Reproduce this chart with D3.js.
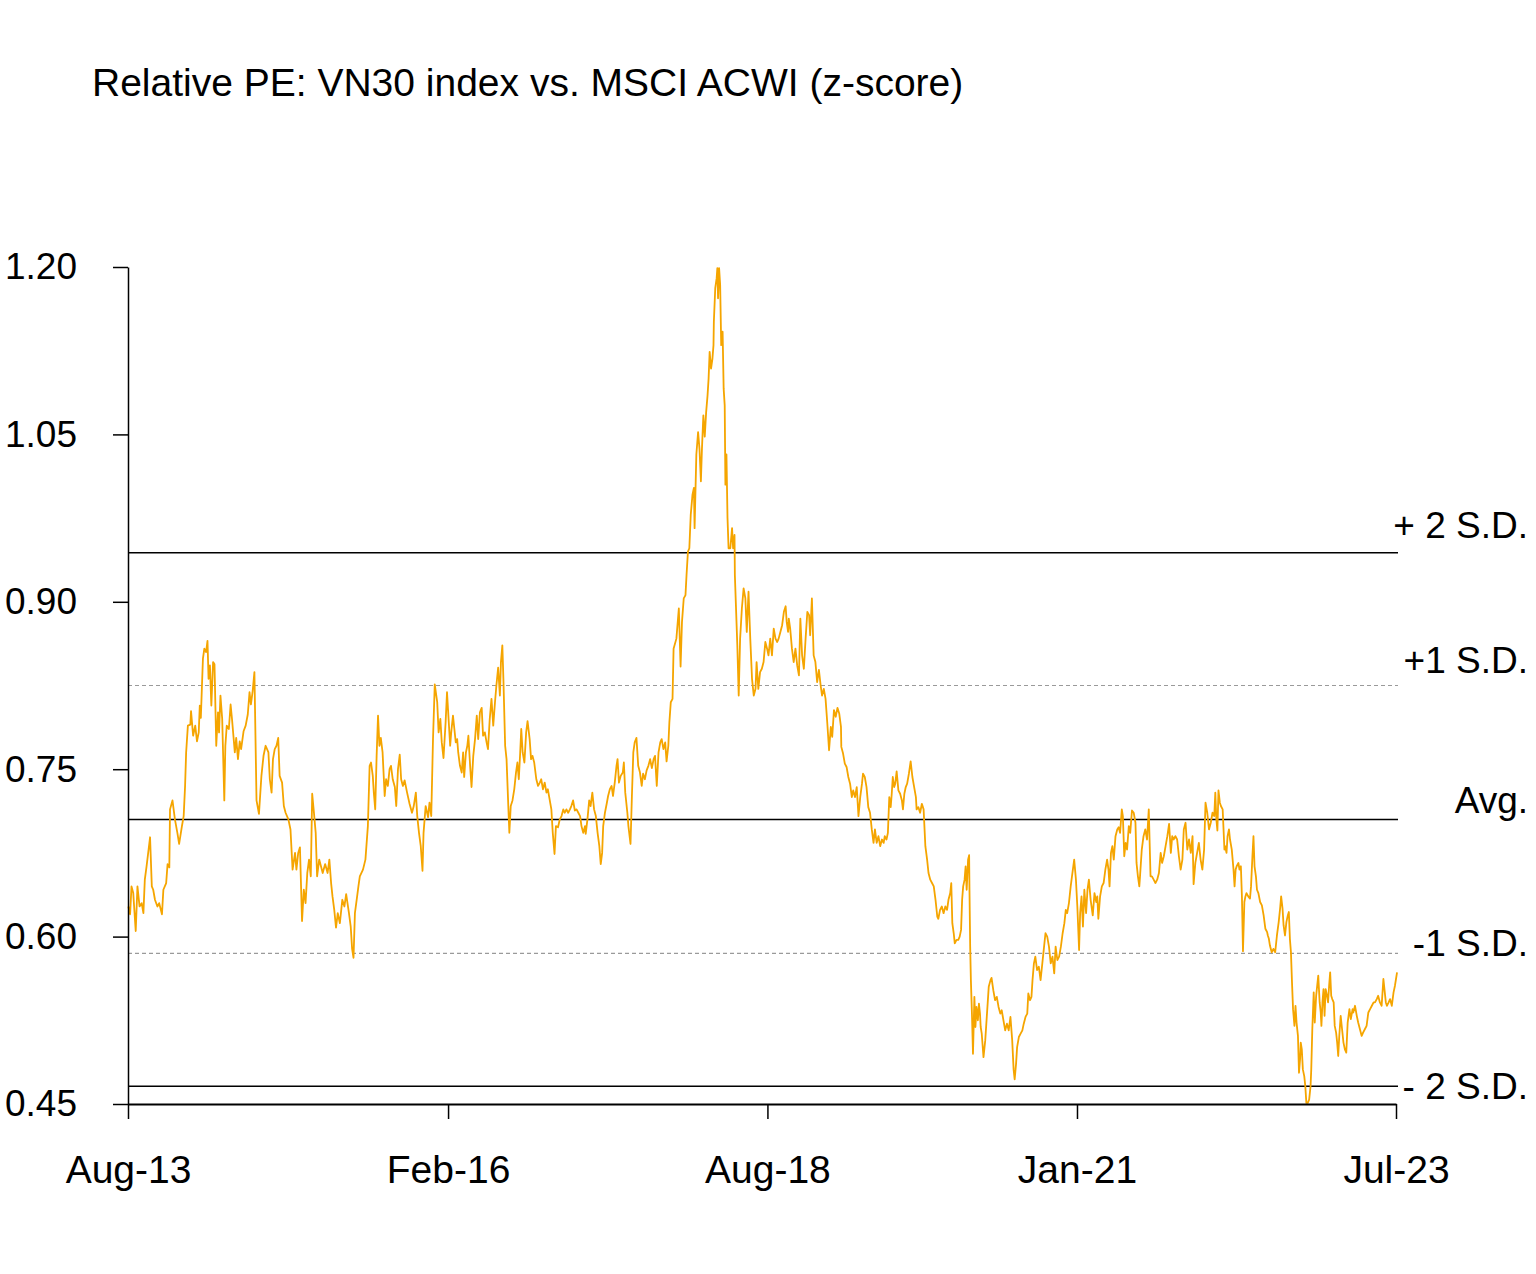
<script src="https://d3js.org/d3.v7.min.js"></script>

<style>
* {
    padding: 0px;
    margin: 0px;
}
body {
    background: #fff;
}
text {
    font-family: 'Liberation Sans', Arial, sans-serif;
    fill: #000;
}
</style>

<svg width="1536" height="1274"></svg>

<script>
const title = "Relative PE: VN30 index vs. MSCI ACWI (z-score)";

// y axis ticks
const yTicks = [0.45, 0.60, 0.75, 0.90, 1.05, 1.20];

// x axis ticks
const xTickDates = ["2013-08-01", "2016-02-01", "2018-08-01", "2021-01-01", "2023-07-01"];
const xTickLabels = ["Aug-13", "Feb-16", "Aug-18", "Jan-21", "Jul-23"];

// average and standard deviation bands
const sdLevels = [0.944, 0.825, 0.705, 0.585, 0.466];
const sdLabels = ["+ 2 S.D.", "+1 S.D.", "Avg.", "-1 S.D.", "- 2 S.D."];
const sdSolid = [true, false, true, false, true];

// relative PE
const series = [
["2013-08-02",0.627],["2013-08-07",0.620],["2013-08-11",0.645],["2013-08-16",0.639],["2013-08-23",0.605],["2013-08-28",0.645],
["2013-09-03",0.627],["2013-09-09",0.630],["2013-09-14",0.621],["2013-09-18",0.651],["2013-09-23",0.663],
["2013-10-03",0.689],["2013-10-08",0.645],["2013-10-12",0.642],["2013-10-17",0.633],["2013-10-24",0.627],["2013-10-29",0.630],
["2013-11-06",0.620],["2013-11-10",0.642],["2013-11-18",0.648],["2013-11-22",0.665],["2013-11-27",0.662],["2013-11-29",0.714],
["2013-12-06",0.722],["2013-12-13",0.705],["2013-12-20",0.693],["2013-12-25",0.683],
["2014-01-02",0.699],["2014-01-07",0.708],["2014-01-11",0.735],["2014-01-14",0.765],["2014-01-19",0.789],["2014-01-26",0.790],["2014-01-28",0.802],
["2014-02-03",0.780],["2014-02-09",0.789],["2014-02-14",0.775],["2014-02-19",0.783],["2014-02-22",0.807],["2014-02-25",0.796],["2014-02-28",0.823],
["2014-03-03",0.849],["2014-03-07",0.858],["2014-03-12",0.855],["2014-03-16",0.865],["2014-03-19",0.831],["2014-03-23",0.843],["2014-03-27",0.807],
["2014-04-01",0.846],["2014-04-05",0.844],["2014-04-10",0.771],["2014-04-15",0.801],["2014-04-18",0.783],["2014-04-22",0.816],["2014-04-27",0.795],
["2014-05-03",0.722],["2014-05-06",0.771],["2014-05-10",0.789],["2014-05-16",0.786],["2014-05-21",0.808],["2014-05-25",0.795],
["2014-06-02",0.765],["2014-06-06",0.778],["2014-06-11",0.759],["2014-06-16",0.775],["2014-06-20",0.768],["2014-06-27",0.784],
["2014-07-03",0.789],["2014-07-09",0.799],["2014-07-14",0.819],["2014-07-18",0.808],["2014-07-23",0.820],["2014-07-28",0.837],
["2014-08-03",0.722],["2014-08-10",0.710],["2014-08-17",0.744],["2014-08-23",0.762],["2014-08-29",0.771],
["2014-09-06",0.765],["2014-09-10",0.741],["2014-09-15",0.729],["2014-09-19",0.759],["2014-09-24",0.768],["2014-09-29",0.771],
["2014-10-04",0.778],["2014-10-08",0.744],["2014-10-15",0.738],["2014-10-20",0.717],["2014-10-25",0.711],
["2014-11-02",0.705],["2014-11-08",0.696],["2014-11-14",0.660],["2014-11-21",0.675],["2014-11-25",0.660],["2014-11-30",0.675],
["2014-12-05",0.680],["2014-12-11",0.614],["2014-12-16",0.642],["2014-12-21",0.630],["2014-12-26",0.657],["2014-12-31",0.669],
["2015-01-05",0.654],["2015-01-09",0.728],["2015-01-14",0.711],["2015-01-19",0.693],["2015-01-23",0.654],["2015-01-29",0.669],
["2015-02-04",0.662],["2015-02-08",0.657],["2015-02-15",0.665],["2015-02-22",0.657],["2015-02-27",0.669],
["2015-03-04",0.648],["2015-03-08",0.636],["2015-03-13",0.624],["2015-03-18",0.608],["2015-03-23",0.621],["2015-03-29",0.612],
["2015-04-05",0.633],["2015-04-11",0.627],["2015-04-16",0.638],["2015-04-24",0.621],["2015-04-29",0.609],
["2015-05-03",0.589],["2015-05-07",0.581],["2015-05-11",0.621],["2015-05-16",0.633],["2015-05-21",0.645],["2015-05-25",0.654],
["2015-06-03",0.660],["2015-06-10",0.669],["2015-06-17",0.699],["2015-06-22",0.753],["2015-06-26",0.756],
["2015-07-01",0.744],["2015-07-04",0.729],["2015-07-08",0.714],["2015-07-12",0.762],["2015-07-16",0.798],["2015-07-20",0.771],["2015-07-24",0.778],["2015-07-29",0.765],
["2015-08-04",0.726],["2015-08-08",0.741],["2015-08-13",0.735],["2015-08-18",0.750],["2015-08-22",0.753],["2015-08-27",0.741],
["2015-09-02",0.734],["2015-09-06",0.717],["2015-09-11",0.750],["2015-09-16",0.763],["2015-09-20",0.741],["2015-09-25",0.735],["2015-09-30",0.740],
["2015-10-07",0.729],["2015-10-14",0.719],["2015-10-21",0.711],["2015-10-26",0.717],
["2015-11-01",0.729],["2015-11-05",0.708],["2015-11-10",0.693],["2015-11-15",0.681],["2015-11-20",0.659],["2015-11-23",0.693],["2015-11-29",0.717],
["2015-12-06",0.707],["2015-12-10",0.720],["2015-12-15",0.708],["2015-12-20",0.777],["2015-12-25",0.826],
["2016-01-01",0.810],["2016-01-05",0.783],["2016-01-10",0.795],["2016-01-14",0.774],["2016-01-19",0.760],["2016-01-25",0.792],["2016-01-29",0.819],
["2016-02-07",0.771],["2016-02-10",0.783],["2016-02-15",0.798],["2016-02-19",0.786],["2016-02-23",0.774],["2016-02-27",0.777],
["2016-03-01",0.765],["2016-03-06",0.753],["2016-03-11",0.747],["2016-03-15",0.765],["2016-03-18",0.743],["2016-03-23",0.765],["2016-03-27",0.771],["2016-03-30",0.780],
["2016-04-04",0.753],["2016-04-08",0.734],["2016-04-13",0.762],["2016-04-18",0.777],["2016-04-23",0.798],["2016-04-27",0.777],
["2016-05-02",0.801],["2016-05-07",0.805],["2016-05-11",0.780],["2016-05-16",0.783],["2016-05-21",0.774],["2016-05-25",0.768],["2016-05-30",0.795],
["2016-06-04",0.813],["2016-06-09",0.789],["2016-06-14",0.810],["2016-06-18",0.825],["2016-06-23",0.841],["2016-06-28",0.816],
["2016-07-01",0.846],["2016-07-05",0.861],["2016-07-08",0.831],["2016-07-13",0.771],["2016-07-17",0.759],["2016-07-22",0.717],["2016-07-25",0.693],["2016-07-29",0.717],
["2016-08-03",0.722],["2016-08-08",0.732],["2016-08-13",0.747],["2016-08-17",0.756],["2016-08-21",0.741],["2016-08-25",0.765],["2016-08-28",0.786],
["2016-09-01",0.765],["2016-09-06",0.756],["2016-09-11",0.783],["2016-09-15",0.793],["2016-09-21",0.777],["2016-09-25",0.759],["2016-09-29",0.762],
["2016-10-04",0.756],["2016-10-10",0.741],["2016-10-15",0.735],["2016-10-20",0.738],["2016-10-24",0.741],["2016-10-29",0.732],
["2016-11-03",0.738],["2016-11-08",0.729],["2016-11-12",0.732],["2016-11-17",0.723],["2016-11-22",0.714],["2016-11-26",0.693],
["2016-12-01",0.674],["2016-12-05",0.699],["2016-12-11",0.698],["2016-12-16",0.705],["2016-12-21",0.708],["2016-12-26",0.714],["2016-12-30",0.711],
["2017-01-04",0.714],["2017-01-09",0.711],["2017-01-14",0.714],["2017-01-18",0.717],["2017-01-23",0.722],["2017-01-28",0.713],
["2017-02-02",0.714],["2017-02-07",0.711],["2017-02-12",0.708],["2017-02-16",0.699],["2017-02-21",0.693],["2017-02-26",0.699],["2017-02-28",0.692],
["2017-03-05",0.705],["2017-03-10",0.722],["2017-03-14",0.717],["2017-03-19",0.729],["2017-03-24",0.714],["2017-03-29",0.708],
["2017-04-03",0.693],["2017-04-08",0.681],["2017-04-12",0.665],["2017-04-16",0.675],["2017-04-19",0.699],["2017-04-24",0.711],["2017-04-29",0.719],
["2017-05-03",0.726],["2017-05-08",0.732],["2017-05-13",0.735],["2017-05-17",0.726],["2017-05-22",0.738],["2017-05-27",0.753],["2017-05-30",0.759],
["2017-06-03",0.738],["2017-06-08",0.744],["2017-06-14",0.747],["2017-06-17",0.756],["2017-06-21",0.729],["2017-06-27",0.711],["2017-06-30",0.699],
["2017-07-06",0.683],["2017-07-10",0.726],["2017-07-14",0.765],["2017-07-18",0.774],["2017-07-23",0.778],["2017-07-28",0.753],
["2017-08-02",0.747],["2017-08-07",0.735],["2017-08-11",0.746],["2017-08-16",0.741],["2017-08-21",0.749],["2017-08-26",0.753],["2017-08-31",0.759],
["2017-09-05",0.751],["2017-09-10",0.759],["2017-09-14",0.762],["2017-09-19",0.735],["2017-09-24",0.765],["2017-09-29",0.774],
["2017-10-03",0.777],["2017-10-08",0.768],["2017-10-13",0.774],["2017-10-17",0.757],["2017-10-22",0.771],["2017-10-25",0.792],["2017-10-29",0.810],
["2017-11-03",0.813],["2017-11-06",0.858],["2017-11-14",0.867],["2017-11-21",0.894],["2017-11-26",0.842],["2017-11-30",0.882],
["2017-12-05",0.903],["2017-12-10",0.906],["2017-12-13",0.924],["2017-12-17",0.945],["2017-12-21",0.948],["2017-12-25",0.978],["2017-12-30",0.996],
["2018-01-03",1.002],["2018-01-05",0.966],["2018-01-10",1.032],["2018-01-15",1.052],["2018-01-19",1.037],["2018-01-23",1.008],["2018-01-26",1.037],["2018-01-30",1.067],
["2018-02-03",1.048],["2018-02-07",1.070],["2018-02-11",1.085],["2018-02-14",1.100],["2018-02-17",1.124],["2018-02-21",1.109],["2018-02-25",1.118],["2018-02-28",1.130],
["2018-03-01",1.151],["2018-03-05",1.181],["2018-03-09",1.190],["2018-03-11",1.199],["2018-03-13",1.172],["2018-03-16",1.199],["2018-03-19",1.184],["2018-03-22",1.130],["2018-03-26",1.142],["2018-03-29",1.091],
["2018-04-01",1.076],["2018-04-03",1.005],["2018-04-06",1.032],["2018-04-09",0.975],["2018-04-12",0.948],["2018-04-17",0.948],["2018-04-22",0.966],["2018-04-25",0.948],["2018-04-29",0.960],["2018-04-30",0.924],
["2018-05-03",0.897],["2018-05-07",0.861],["2018-05-11",0.816],["2018-05-15",0.867],["2018-05-20",0.894],["2018-05-25",0.912],["2018-05-30",0.903],
["2018-06-03",0.873],["2018-06-08",0.909],["2018-06-13",0.867],["2018-06-18",0.831],["2018-06-23",0.816],["2018-06-28",0.822],
["2018-07-01",0.846],["2018-07-06",0.822],["2018-07-11",0.837],["2018-07-16",0.840],["2018-07-21",0.846],["2018-07-26",0.864],["2018-07-31",0.858],
["2018-08-04",0.852],["2018-08-09",0.867],["2018-08-14",0.852],["2018-08-19",0.876],["2018-08-24",0.867],["2018-08-29",0.864],
["2018-09-02",0.867],["2018-09-07",0.873],["2018-09-12",0.879],["2018-09-17",0.891],["2018-09-22",0.896],["2018-09-25",0.882],["2018-09-29",0.873],
["2018-10-01",0.885],["2018-10-05",0.876],["2018-10-10",0.858],["2018-10-15",0.846],["2018-10-20",0.858],["2018-10-25",0.843],["2018-10-30",0.834],
["2018-11-03",0.885],["2018-11-08",0.852],["2018-11-13",0.840],["2018-11-18",0.867],["2018-11-23",0.891],["2018-11-28",0.888],
["2018-12-01",0.870],["2018-12-06",0.903],["2018-12-11",0.852],["2018-12-16",0.846],["2018-12-21",0.828],["2018-12-26",0.839],["2018-12-31",0.825],
["2019-01-04",0.816],["2019-01-09",0.822],["2019-01-14",0.813],["2019-01-19",0.791],["2019-01-24",0.767],["2019-01-29",0.788],
["2019-02-02",0.779],["2019-02-07",0.803],["2019-02-12",0.797],["2019-02-17",0.805],["2019-02-22",0.800],["2019-02-27",0.788],["2019-02-28",0.770],
["2019-03-05",0.764],["2019-03-10",0.755],["2019-03-15",0.752],["2019-03-20",0.743],["2019-03-25",0.737],["2019-03-30",0.725],
["2019-04-03",0.731],["2019-04-08",0.725],["2019-04-13",0.734],["2019-04-18",0.708],["2019-04-23",0.725],["2019-04-28",0.737],
["2019-05-01",0.746],["2019-05-06",0.743],["2019-05-11",0.734],["2019-05-16",0.716],["2019-05-21",0.711],["2019-05-26",0.696],["2019-05-31",0.684],
["2019-06-04",0.696],["2019-06-09",0.684],["2019-06-14",0.690],["2019-06-19",0.681],["2019-06-24",0.687],["2019-06-29",0.684],
["2019-07-02",0.690],["2019-07-07",0.687],["2019-07-11",0.693],["2019-07-15",0.725],["2019-07-19",0.716],["2019-07-22",0.728],["2019-07-25",0.743],["2019-07-29",0.734],
["2019-08-01",0.737],["2019-08-05",0.748],["2019-08-10",0.731],["2019-08-15",0.728],["2019-08-20",0.722],["2019-08-23",0.714],["2019-08-27",0.728],["2019-08-31",0.734],
["2019-09-04",0.737],["2019-09-09",0.746],["2019-09-14",0.757],["2019-09-19",0.743],["2019-09-24",0.734],["2019-09-29",0.725],
["2019-10-01",0.714],["2019-10-06",0.716],["2019-10-11",0.711],["2019-10-16",0.719],["2019-10-21",0.714],["2019-10-26",0.681],["2019-10-31",0.669],
["2019-11-04",0.657],["2019-11-09",0.651],["2019-11-14",0.648],["2019-11-19",0.645],["2019-11-24",0.633],["2019-11-29",0.618],
["2019-12-02",0.616],["2019-12-07",0.624],["2019-12-12",0.627],["2019-12-17",0.621],["2019-12-22",0.627],["2019-12-27",0.624],["2019-12-31",0.633],
["2020-01-05",0.639],["2020-01-08",0.648],["2020-01-11",0.612],["2020-01-15",0.603],["2020-01-18",0.594],["2020-01-23",0.597],["2020-01-28",0.597],
["2020-02-01",0.600],["2020-02-05",0.606],["2020-02-08",0.633],["2020-02-11",0.645],["2020-02-15",0.651],["2020-02-18",0.663],["2020-02-21",0.642],["2020-02-25",0.669],["2020-02-28",0.673],["2020-02-29",0.642],
["2020-03-02",0.591],["2020-03-04",0.561],["2020-03-07",0.531],["2020-03-10",0.495],["2020-03-14",0.546],["2020-03-17",0.519],["2020-03-20",0.537],["2020-03-24",0.525],["2020-03-27",0.540],["2020-03-30",0.531],
["2020-04-01",0.519],["2020-04-04",0.513],["2020-04-09",0.492],["2020-04-14",0.507],["2020-04-19",0.531],["2020-04-24",0.555],["2020-04-29",0.561],
["2020-05-02",0.563],["2020-05-07",0.552],["2020-05-12",0.543],["2020-05-17",0.546],["2020-05-22",0.537],["2020-05-27",0.531],["2020-05-31",0.534],
["2020-06-05",0.525],["2020-06-10",0.516],["2020-06-15",0.522],["2020-06-20",0.516],["2020-06-25",0.528],["2020-06-30",0.507],
["2020-07-04",0.481],["2020-07-07",0.472],["2020-07-11",0.486],["2020-07-14",0.501],["2020-07-19",0.510],["2020-07-24",0.513],["2020-07-29",0.516],
["2020-08-02",0.522],["2020-08-07",0.528],["2020-08-12",0.531],["2020-08-15",0.549],["2020-08-20",0.543],["2020-08-24",0.546],["2020-08-27",0.561],["2020-08-31",0.576],
["2020-09-04",0.582],["2020-09-09",0.570],["2020-09-14",0.573],["2020-09-19",0.561],["2020-09-24",0.576],["2020-09-29",0.591],
["2020-10-03",0.603],["2020-10-08",0.600],["2020-10-13",0.591],["2020-10-18",0.576],["2020-10-23",0.582],["2020-10-28",0.567],
["2020-11-01",0.591],["2020-11-06",0.579],["2020-11-11",0.582],["2020-11-16",0.591],["2020-11-21",0.603],["2020-11-26",0.612],["2020-11-30",0.624],
["2020-12-04",0.621],["2020-12-09",0.630],["2020-12-14",0.645],["2020-12-19",0.657],["2020-12-24",0.669],["2020-12-29",0.651],
["2021-01-02",0.627],["2021-01-07",0.588],["2021-01-10",0.621],["2021-01-14",0.636],["2021-01-18",0.609],["2021-01-22",0.642],["2021-01-27",0.621],["2021-01-31",0.642],
["2021-02-04",0.651],["2021-02-09",0.633],["2021-02-15",0.619],["2021-02-20",0.639],["2021-02-25",0.631],["2021-02-28",0.636],
["2021-03-03",0.616],["2021-03-08",0.636],["2021-03-13",0.645],["2021-03-18",0.648],["2021-03-23",0.660],["2021-03-28",0.669],
["2021-04-01",0.660],["2021-04-04",0.645],["2021-04-08",0.675],["2021-04-12",0.681],["2021-04-16",0.669],["2021-04-21",0.690],["2021-04-26",0.696],["2021-04-30",0.698],
["2021-05-04",0.693],["2021-05-09",0.714],["2021-05-12",0.708],["2021-05-16",0.672],["2021-05-20",0.684],["2021-05-24",0.678],["2021-05-29",0.699],
["2021-06-02",0.693],["2021-06-07",0.713],["2021-06-12",0.711],["2021-06-17",0.702],["2021-06-20",0.666],["2021-06-24",0.654],["2021-06-28",0.645],["2021-06-30",0.654],
["2021-07-05",0.678],["2021-07-10",0.690],["2021-07-15",0.696],["2021-07-20",0.687],["2021-07-25",0.714],["2021-07-30",0.654],
["2021-08-03",0.654],["2021-08-08",0.651],["2021-08-13",0.648],["2021-08-18",0.651],["2021-08-23",0.657],["2021-08-28",0.675],
["2021-09-01",0.666],["2021-09-06",0.672],["2021-09-11",0.681],["2021-09-16",0.690],["2021-09-21",0.701],["2021-09-26",0.675],["2021-09-30",0.690],
["2021-10-04",0.687],["2021-10-09",0.690],["2021-10-14",0.687],["2021-10-19",0.672],["2021-10-24",0.660],["2021-10-29",0.669],
["2021-11-02",0.696],["2021-11-07",0.702],["2021-11-12",0.678],["2021-11-17",0.687],["2021-11-22",0.675],["2021-11-27",0.690],["2021-11-30",0.647],
["2021-12-05",0.666],["2021-12-10",0.675],["2021-12-15",0.684],["2021-12-20",0.669],["2021-12-25",0.660],["2021-12-30",0.678],
["2022-01-03",0.720],["2022-01-08",0.711],["2022-01-13",0.696],["2022-01-18",0.702],["2022-01-23",0.711],["2022-01-28",0.708],["2022-01-31",0.729],
["2022-02-03",0.705],["2022-02-06",0.695],["2022-02-09",0.731],["2022-02-13",0.720],["2022-02-16",0.717],["2022-02-21",0.714],["2022-02-26",0.678],["2022-02-28",0.681],
["2022-03-04",0.675],["2022-03-07",0.690],["2022-03-11",0.696],["2022-03-14",0.687],["2022-03-19",0.678],["2022-03-24",0.660],["2022-03-27",0.645],["2022-03-30",0.660],
["2022-04-02",0.663],["2022-04-07",0.666],["2022-04-10",0.660],["2022-04-14",0.663],["2022-04-17",0.636],["2022-04-20",0.587],["2022-04-24",0.631],["2022-04-27",0.636],["2022-04-30",0.639],
["2022-05-05",0.636],["2022-05-10",0.634],["2022-05-13",0.645],["2022-05-17",0.672],["2022-05-20",0.690],["2022-05-23",0.663],["2022-05-27",0.654],["2022-05-30",0.642],
["2022-06-03",0.639],["2022-06-08",0.631],["2022-06-13",0.628],["2022-06-18",0.619],["2022-06-23",0.607],["2022-06-28",0.604],["2022-06-30",0.601],
["2022-07-03",0.598],["2022-07-06",0.592],["2022-07-11",0.586],["2022-07-16",0.589],["2022-07-21",0.586],["2022-07-26",0.601],["2022-07-31",0.613],
["2022-08-04",0.625],["2022-08-07",0.636],["2022-08-11",0.625],["2022-08-14",0.610],["2022-08-18",0.601],["2022-08-22",0.613],["2022-08-26",0.619],["2022-08-29",0.622],
["2022-09-01",0.598],["2022-09-04",0.586],["2022-09-07",0.559],["2022-09-10",0.535],["2022-09-14",0.520],["2022-09-17",0.538],["2022-09-20",0.523],["2022-09-24",0.511],["2022-09-27",0.478],["2022-09-30",0.490],
["2022-10-02",0.505],["2022-10-05",0.499],["2022-10-08",0.481],["2022-10-12",0.475],["2022-10-15",0.466],["2022-10-18",0.451],["2022-10-22",0.451],["2022-10-26",0.454],["2022-10-30",0.466],
["2022-11-01",0.481],["2022-11-04",0.517],["2022-11-08",0.550],["2022-11-11",0.523],["2022-11-15",0.547],["2022-11-18",0.556],["2022-11-21",0.565],["2022-11-25",0.541],["2022-11-28",0.532],["2022-11-30",0.520],
["2022-12-03",0.541],["2022-12-06",0.553],["2022-12-09",0.529],["2022-12-12",0.553],["2022-12-16",0.547],["2022-12-19",0.541],["2022-12-22",0.556],["2022-12-25",0.568],["2022-12-28",0.547],["2022-12-31",0.544],
["2023-01-04",0.541],["2023-01-07",0.520],["2023-01-11",0.514],["2023-01-14",0.505],["2023-01-17",0.493],["2023-01-20",0.511],["2023-01-24",0.529],["2023-01-28",0.517],
["2023-02-01",0.505],["2023-02-05",0.499],["2023-02-09",0.496],["2023-02-13",0.523],["2023-02-18",0.535],["2023-02-22",0.526],["2023-02-27",0.535],
["2023-03-01",0.532],["2023-03-06",0.538],["2023-03-11",0.529],["2023-03-15",0.523],["2023-03-20",0.517],["2023-03-25",0.511],["2023-03-29",0.514],
["2023-04-03",0.517],["2023-04-08",0.520],["2023-04-13",0.532],["2023-04-18",0.535],["2023-04-23",0.538],["2023-04-28",0.541],
["2023-05-02",0.541],["2023-05-07",0.544],["2023-05-11",0.547],["2023-05-16",0.541],["2023-05-21",0.538],["2023-05-26",0.562],["2023-05-29",0.553],
["2023-06-02",0.541],["2023-06-05",0.538],["2023-06-10",0.541],["2023-06-14",0.544],["2023-06-19",0.538],["2023-06-24",0.550],["2023-06-28",0.556],
["2023-07-01",0.562],["2023-07-04",0.568]
];

const parseDate = d3.timeParse("%Y-%m-%d");
const data = series.map(d => ({date: parseDate(d[0]), value: d[1]}));

let svg = d3.select("svg");

let x = d3.scaleTime()
    .domain([parseDate("2013-08-01"), parseDate("2023-07-01")])
    .range([128, 1396]);

let y = d3.scaleLinear()
    .domain([0.45, 1.20])
    .range([1104, 267]);

// title
svg.append("text")
    .attr("x", 92)
    .attr("y", 96)
    .attr("font-size", "39px")
    .text(title);

// mean / S.D. reference lines
svg.selectAll(".sd")
    .data(sdLevels)
    .enter()
    .append("line")
    .attr("class", "sd")
    .attr("x1", x.range()[0])
    .attr("x2", x.range()[1] + 2)
    .attr("y1", d => y(d))
    .attr("y2", d => y(d))
    .attr("stroke", (d, i) => sdSolid[i] ? "#000" : "#9a9a9a")
    .attr("stroke-width", (d, i) => sdSolid[i] ? 1.5 : 1.2)
    .attr("stroke-dasharray", (d, i) => sdSolid[i] ? null : "4,3");

// labels on the right, nudged up a bit from their line
const labelDy = [-28, -26, -19, -10, 0];
svg.selectAll(".sdlabel")
    .data(sdLabels)
    .enter()
    .append("text")
    .attr("class", "sdlabel")
    .attr("x", 1528)
    .attr("y", (d, i) => y(sdLevels[i]) + labelDy[i] + 13)
    .attr("text-anchor", "end")
    .attr("font-size", "37px")
    .text(d => d);

// the series
let line = d3.line()
    .x(d => x(d.date))
    .y(d => y(d.value));

svg.append("path")
    .datum(data)
    .attr("fill", "none")
    .attr("stroke", "#F5A500")
    .attr("stroke-width", 1.8)
    .attr("stroke-linejoin", "round")
    .attr("d", line);

// axes
let yAxis = d3.axisLeft(y)
    .tickValues(yTicks)
    .tickFormat(d3.format(".2f"))
    .tickSize(15)
    .tickSizeOuter(0)
    .tickPadding(36);

let gy = svg.append("g")
    .attr("transform", "translate(128,0)")
    .call(yAxis);
gy.selectAll("text").attr("font-size", "37px").attr("fill", "#000");
gy.selectAll("line, path").attr("stroke", "#000").attr("stroke-width", 1.5);

let xAxis = d3.axisBottom(x)
    .tickValues(xTickDates.map(parseDate))
    .tickFormat((d, i) => xTickLabels[i])
    .tickSize(15)
    .tickSizeOuter(0)
    .tickPadding(36);

let gx = svg.append("g")
    .attr("transform", "translate(0,1104)")
    .call(xAxis);
gx.selectAll("text").attr("font-size", "39px").attr("fill", "#000");
gx.selectAll("line, path").attr("stroke", "#000").attr("stroke-width", 1.5);
gx.select(".domain").attr("stroke-width", 2);

svg.selectAll("g").attr("font-family", null);
</script>
